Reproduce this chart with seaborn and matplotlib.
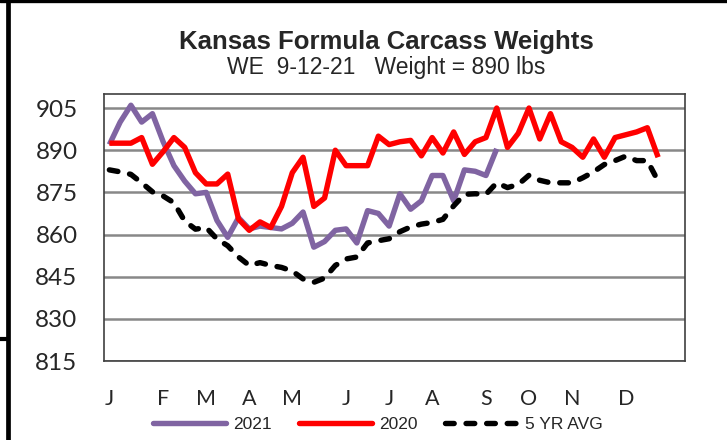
import numpy as np
import pandas as pd
import matplotlib
matplotlib.use("Agg")
import matplotlib.pyplot as plt
from matplotlib.lines import Line2D
import seaborn as sns

# weekly carcass weights (lbs), week index 0 = first week of January
W2021 = [892, 900, 906, 900, 903, 893, 884.5, 879, 874.5, 875, 865, 859,
         866, 862, 863, 862.5, 862, 864, 868, 855.5, 857.5, 861.5, 862, 857,
         868.5, 867.5, 863, 874.5, 869, 872, 881, 881, 872, 883, 882.5, 881,
         890.5]
W2020 = [892.5, 892.5, 892.5, 894.5, 885, 889.5, 894.5, 891, 882, 878, 878, 881.5,
         865.5, 861.5, 864.5, 862.5, 870, 882, 887.5, 870, 873, 890, 884.5, 884.5,
         884.5, 895, 892, 893, 893.5, 888, 894.5, 889, 896.5, 888.5, 893, 894.5,
         905, 891, 896, 905, 894, 903, 893, 891, 887.5, 894, 887.5, 894.5,
         895.5, 896.5, 898, 887.5]
AVG5 = [883, 882.3, 881.4, 878.4, 875.2, 873.7, 871.3, 864.8, 861.9, 862.5, 858.4, 856,
        852, 849, 850, 849, 848.3, 847, 844.2, 843, 844.5, 849, 851.3, 852,
        857, 857.8, 858.5, 861, 862.7, 863.7, 864.3, 865.4, 870.2, 874.3, 874.5, 874.3,
        878.4, 876.7, 877.8, 881.1, 879.3, 878.4, 878.4, 878.4, 880.2, 882.3, 884.9, 886.3,
        887.9, 886.3, 886.3, 879]

MONTHS = ["J", "F", "M", "A", "M", "J", "J", "A", "S", "O", "N", "D"]
MONTH_WEEKS = [0, 5, 9, 13, 17, 22, 26, 30, 35, 39, 43, 48]
Y_TICKS = [815, 830, 845, 860, 875, 890, 905]

N_WEEKS = 54
PURPLE = "#8064A2"
RED = "#FF0000"

sns.set_style("white")
plt.rcParams["font.family"] = ["Liberation Sans", "DejaVu Sans"]

fig = plt.figure(figsize=(7.27, 4.40), dpi=100)
ax = fig.add_axes([104 / 727, 79 / 440, 581 / 727, 267 / 440])

series = [("2021", W2021, PURPLE, "-"), ("2020", W2020, RED, "-"),
          ("5 YR AVG", AVG5, "black", (0, (1.6, 2.2)))]
for name, vals, color, ls in series:
    df = pd.DataFrame({"week": np.arange(len(vals)), "lbs": vals})
    sns.lineplot(data=df, x="week", y="lbs", ax=ax, color=color, linewidth=3.9,
                 linestyle=ls, dash_capstyle="round", solid_capstyle="butt",
                 label=name, legend=False)

ax.set_xlim(-0.5, N_WEEKS - 0.5)
ax.set_ylim(815, 910)
ax.set_xlabel("")
ax.set_ylabel("")

ax.set_yticks(Y_TICKS)
ax.set_yticklabels([str(v) for v in Y_TICKS], family="Lato", fontsize=17.5)
ax.tick_params(axis="y", length=0, pad=19)
ax.yaxis.grid(True, color="#888888", linewidth=1.8)
ax.set_axisbelow(True)

ax.set_xticks(MONTH_WEEKS)
ax.set_xticklabels(MONTHS, family="Lato", fontsize=15.5)
ax.set_xticks(np.arange(-0.5, N_WEEKS, 1), minor=True)
ax.tick_params(axis="x", which="major", length=0, pad=20)
ax.tick_params(axis="x", which="minor", length=4, width=1, color="#404040",
               direction="out")

for s in ax.spines.values():
    s.set_visible(True)
    s.set_color("#404040")
    s.set_linewidth(1.2)

fig.text(0.531, 0.889, "Kansas Formula Carcass Weights", ha="center",
         va="baseline", fontsize=18.5, fontweight="bold")
fig.text(0.531, 0.832, "WE  9-12-21   Weight = 890 lbs", ha="center",
         va="baseline", fontsize=16.5)

handles = [Line2D([], [], color=PURPLE, linewidth=3.9),
           Line2D([], [], color=RED, linewidth=3.9),
           Line2D([], [], color="black", linewidth=3.9, linestyle=(0, (1.6, 2.2)),
                  dash_capstyle="round")]
fig.legend(handles, ["2021", "2020", "5 YR AVG"], loc="center",
           bbox_to_anchor=(0.52, 0.036), ncol=3, frameon=False, fontsize=12.5,
           handlelength=4.2, handletextpad=0.4, columnspacing=1.6)

# frame edges left over from the original screenshot
fig.add_artist(Line2D([0, 1], [1 - 1.5 / 440] * 2, color="black", linewidth=2.4))
fig.add_artist(Line2D([8 / 727] * 2, [0, 1], color="black", linewidth=3.4))
fig.add_artist(Line2D([0, 8 / 727], [1 - 339 / 440] * 2, color="black", linewidth=3))

fig.savefig("out.png", dpi=100)
